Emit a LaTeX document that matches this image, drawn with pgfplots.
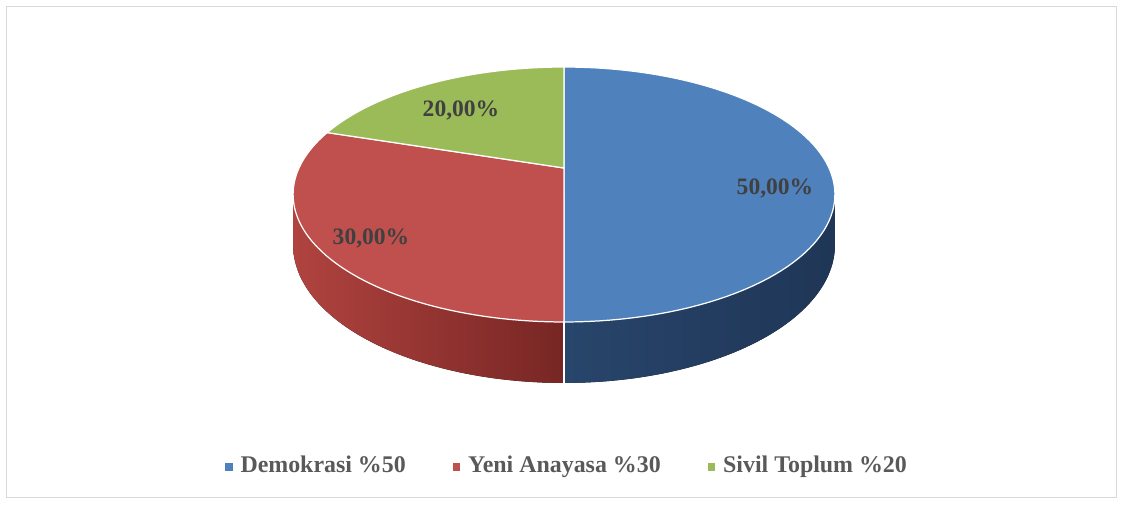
\documentclass[border=0pt]{standalone}
\usepackage{fontspec}
\setmainfont{Liberation Serif}
\usepackage{pgfplots}
\usepackage{pgfplotstable}
\pgfplotsset{compat=1.18}
\usepgfplotslibrary{fillbetween}

\definecolor{cBlue}{HTML}{4F81BD}
\definecolor{cRed}{HTML}{C0504D}
\definecolor{cGreen}{HTML}{9BBB59}
\definecolor{cLab}{HTML}{404040}
\definecolor{cLeg}{HTML}{595959}
\definecolor{cFrame}{HTML}{D9D9D9}

% slice values (percent)
\pgfplotstableread{
name value
Demokrasi 50
Yeni 30
Sivil 20
}\piedata
\pgfplotstablegetelem{0}{value}\of\piedata \edef\vA{\pgfplotsretval}
\pgfplotstablegetelem{1}{value}\of\piedata \edef\vB{\pgfplotsretval}
\pgfplotstablegetelem{2}{value}\of\piedata \edef\vC{\pgfplotsretval}
% slice boundaries, clockwise from 12 o'clock
\pgfmathsetmacro\aA{90}
\pgfmathsetmacro\aB{\aA-3.6*\vA}
\pgfmathsetmacro\aC{\aB-3.6*\vB}
\pgfmathsetmacro\aD{\aC-3.6*\vC}

% perspective ellipse, 1 unit = 1 px of the reference
\newcommand\px[1]{564+265*cos(#1)/(1+0.2078*sin(#1))}
\newcommand\py[1]{504-(168-87.07*sin(#1))/(1+0.2078*sin(#1))}
\newcommand\pyb[1]{504-(216.3-87.07*sin(#1))/(1+0.2078*sin(#1))}

\newcommand\lbl{\fontsize{6.7}{8}\selectfont\bfseries}
\newcommand\lgd{\fontsize{6.8}{8}\selectfont\bfseries}

\begin{document}
\begin{tikzpicture}
\begin{axis}[
    width=11.23cm, height=5.04cm,
    scale only axis,
    hide axis,
    clip=false,
    xmin=0, xmax=1123,
    ymin=0, ymax=504,
    legend columns=3,
    legend style={at={(axis cs:570,37)}, anchor=center, draw=none, fill=none,
        font=\lgd,
        nodes={text=cLeg, inner xsep=0.08cm, inner ysep=0pt},
        /tikz/every even column/.append style={column sep=0.39cm}},
    legend image code/.code={\fill[#1] (0cm,-0.03cm) rectangle (0.06cm,0.03cm);},
]
\coordinate (bbA) at (axis cs:0,0);
\coordinate (bbB) at (axis cs:1123,504);
\draw[cFrame, line width=0.45pt] (axis cs:6.5,6.5) rectangle (axis cs:1116.5,497.5);

% sides
\addplot[forget plot, name path=rt, draw=none, domain=-168:\aB, samples=60, variable=\t] ({\px{\t}},{\py{\t}});
\addplot[forget plot, name path=rb, draw=none, domain=-168:\aB, samples=60, variable=\t] ({\px{\t}},{\pyb{\t}});
\addplot[forget plot, draw=none,
    left color={rgb,255:red,176;green,67;blue,63}, middle color={rgb,255:red,151;green,55;blue,52},
    right color={rgb,255:red,119;green,38;blue,36}] fill between[of=rt and rb];
\addplot[forget plot, name path=bt, draw=none, domain=\aB:-12, samples=60, variable=\t] ({\px{\t}},{\py{\t}});
\addplot[forget plot, name path=bb, draw=none, domain=\aB:-12, samples=60, variable=\t] ({\px{\t}},{\pyb{\t}});
\addplot[forget plot, draw=none,
    left color={rgb,255:red,40;green,69;blue,107}, middle color={rgb,255:red,29;green,50;blue,81},
    right color={rgb,255:red,31;green,54;blue,86}] fill between[of=bt and bb];
\draw[white, line width=0.35pt] (axis cs:564,182) -- (axis cs:564,121);

% top faces
\addplot[forget plot, fill=cBlue, draw=white, line width=0.35pt, domain=\aB:\aA, samples=90, variable=\t]
    ({\px{\t}},{\py{\t}}) -- (axis cs:564,336) -- cycle;
\addplot[forget plot, fill=cRed, draw=white, line width=0.35pt, domain=\aC:\aB, samples=70, variable=\t]
    ({\px{\t}},{\py{\t}}) -- (axis cs:564,336) -- cycle;
\addplot[forget plot, fill=cGreen, draw=white, line width=0.35pt, domain=\aD:\aC, samples=50, variable=\t]
    ({\px{\t}},{\py{\t}}) -- (axis cs:564,336) -- cycle;

% data labels
\node[font=\lbl, text=cLab] at (axis cs:775,316) {50,00\%};
\node[font=\lbl, text=cLab] at (axis cs:371,266) {30,00\%};
\node[font=\lbl, text=cLab] at (axis cs:461,394) {20,00\%};

\addlegendimage{cBlue}
\addlegendentry{Demokrasi \%50}
\addlegendimage{cRed}
\addlegendentry{Yeni Anayasa \%30}
\addlegendimage{cGreen}
\addlegendentry{Sivil Toplum \%20}
\end{axis}
\pgfresetboundingbox
\path[use as bounding box] (bbA) rectangle (bbB);
\end{tikzpicture}
\end{document}
